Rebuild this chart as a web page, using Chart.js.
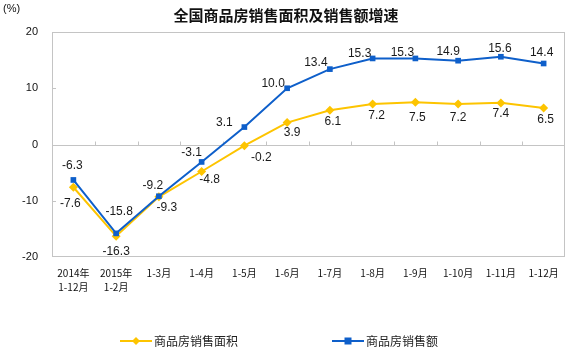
<!DOCTYPE html>
<html>
<head>
<meta charset="utf-8">
<title>全国商品房销售面积及销售额增速</title>
<script src="https://cdn.jsdelivr.net/npm/chart.js@4.4.1/dist/chart.umd.min.js"></script>
<style>
  html, body { margin: 0; padding: 0; background: #fff; }
  #wrap { width: 571px; height: 350px; }
</style>
</head>
<body>
<div id="wrap"><canvas id="salesChart" width="571" height="350"></canvas></div>
<script>
// categories (multi-line for the first two)
const months = [
  ["2014年", "1-12月"], ["2015年", "1-2月"], "1-3月", "1-4月", "1-5月", "1-6月",
  "1-7月", "1-8月", "1-9月", "1-10月", "1-11月", "1-12月"
];
// 商品房销售面积 growth, %
const areaGrowth = [-7.6, -16.3, -9.3, -4.8, -0.2, 3.9, 6.1, 7.2, 7.5, 7.2, 7.4, 6.5];
// 商品房销售额 growth, %
const amountGrowth = [-6.3, -15.8, -9.2, -3.1, 3.1, 10.0, 13.4, 15.3, 15.3, 14.9, 15.6, 14.4];
const yTicks = [-20, -10, 0, 10, 20];

const BLUE = "#0e5fca";
const YELLOW = "#fdc400";
const FRAME = "#c4c4c4";
const FONT = '"Liberation Sans", "Noto Sans CJK SC", sans-serif';
const CJK = '"Noto Sans CJK SC", "Liberation Sans", sans-serif';

// where each value label sits relative to its point (dx, dy)
const amountLabelShift = [[-1, -14], [3, -22], [-6, -11], [-10, -9], [-20, -4], [-14, -5],
  [-14, -6], [-13, -5], [-13, -6], [-10, -9], [-1, -8], [-2, -11]];
const areaLabelShift = [[-3, 16], [0, 15], [8, 11], [8, 8], [17, 12], [5, 10],
  [3, 11], [4, 12], [2, 15], [0, 14], [0, 11], [2, 12]];

const decorations = {
  id: "decorations",
  beforeDatasetsDraw(chart) {
    const { ctx, chartArea: a, scales: { x, y } } = chart;
    ctx.save();
    ctx.strokeStyle = FRAME;
    ctx.lineWidth = 1;
    ctx.strokeRect(a.left + 0.5, a.top + 0.5, a.right - a.left - 1, a.bottom - a.top - 1);
    // zero line with category separators
    const y0 = Math.round(y.getPixelForValue(0)) + 0.5;
    ctx.beginPath();
    ctx.moveTo(a.left, y0);
    ctx.lineTo(a.right, y0);
    const step = (a.right - a.left) / months.length;
    for (let i = 1; i < months.length; i++) {
      const px = Math.round(a.left + step * i) + 0.5;
      ctx.moveTo(px, y0);
      ctx.lineTo(px, y0 - 4);
    }
    // small inner ticks on the value axis
    [10, 0, -10].forEach(v => {
      const py = Math.round(y.getPixelForValue(v)) + 0.5;
      ctx.moveTo(a.left, py);
      ctx.lineTo(a.left + 4, py);
    });
    ctx.stroke();
    ctx.restore();
  },
  afterDatasetsDraw(chart) {
    const { ctx } = chart;
    ctx.save();
    ctx.font = "12px " + FONT;
    ctx.fillStyle = "#1a1a1a";
    ctx.textAlign = "center";
    ctx.textBaseline = "middle";
    const draw = (dsIndex, values, shift) => {
      chart.getDatasetMeta(dsIndex).data.forEach((pt, i) => {
        ctx.fillText(values[i].toFixed(1), pt.x + shift[i][0], pt.y + shift[i][1]);
      });
    };
    draw(0, areaGrowth, areaLabelShift);
    draw(1, amountGrowth, amountLabelShift);
    ctx.restore();
  },
  afterDraw(chart) {
    const { ctx } = chart;
    ctx.save();
    ctx.fillStyle = "#111";
    ctx.textBaseline = "middle";
    ctx.textAlign = "center";
    ctx.font = "bold 15px " + CJK;
    ctx.fillText("全国商品房销售面积及销售额增速", 286, 15);
    ctx.textAlign = "left";
    ctx.font = "11px " + FONT;
    ctx.fillText("(%)", 3, 9);

    // legend
    const legend = [
      { x: 120, color: YELLOW, style: "diamond", text: "商品房销售面积" },
      { x: 332, color: BLUE, style: "square", text: "商品房销售额" }
    ];
    const ly = 341;
    legend.forEach(item => {
      ctx.strokeStyle = item.color;
      ctx.fillStyle = item.color;
      ctx.lineWidth = 2;
      ctx.beginPath();
      ctx.moveTo(item.x, ly);
      ctx.lineTo(item.x + 32, ly);
      ctx.stroke();
      const cx = item.x + 16;
      ctx.beginPath();
      if (item.style === "diamond") {
        ctx.moveTo(cx, ly - 4);
        ctx.lineTo(cx + 4, ly);
        ctx.lineTo(cx, ly + 4);
        ctx.lineTo(cx - 4, ly);
        ctx.closePath();
      } else {
        ctx.rect(cx - 3.5, ly - 3.5, 7, 7);
      }
      ctx.fill();
      ctx.fillStyle = "#222";
      ctx.font = "12px " + CJK;
      ctx.fillText(item.text, item.x + 34, ly);
    });
    ctx.restore();
  }
};

new Chart(document.getElementById("salesChart"), {
  type: "line",
  data: {
    labels: months,
    datasets: [
      {
        label: "商品房销售面积",
        data: areaGrowth,
        borderColor: YELLOW,
        backgroundColor: YELLOW,
        borderWidth: 2,
        pointStyle: "rectRot",
        pointRadius: 4.5,
        pointBorderWidth: 0,
        tension: 0,
        order: 1
      },
      {
        label: "商品房销售额",
        data: amountGrowth,
        borderColor: BLUE,
        backgroundColor: BLUE,
        borderWidth: 2,
        pointStyle: "rect",
        pointRadius: 4,
        pointBorderWidth: 0,
        tension: 0,
        order: 0
      }
    ]
  },
  options: {
    responsive: false,
    animation: false,
    layout: { padding: { top: 32, right: 6, bottom: 50, left: 0 } },
    plugins: {
      legend: { display: false },
      title: { display: false },
      tooltip: { enabled: false }
    },
    scales: {
      x: {
        offset: true,
        grid: { display: false, drawTicks: false },
        border: { display: false },
        ticks: {
          color: "#111",
          font: { family: CJK, size: 10, lineHeight: 1.4 },
          padding: 9,
          maxRotation: 0,
          autoSkip: false
        },
        afterFit(scale) { scale.height = 43; }
      },
      y: {
        min: -20,
        max: 20,
        grid: { display: false, drawTicks: false },
        border: { display: false },
        afterBuildTicks(scale) { scale.ticks = yTicks.map(v => ({ value: v })); },
        ticks: {
          color: "#111",
          font: { family: FONT, size: 11 },
          padding: 14
        },
        afterFit(scale) { scale.width = 52; }
      }
    }
  },
  plugins: [decorations]
});
</script>
</body>
</html>
